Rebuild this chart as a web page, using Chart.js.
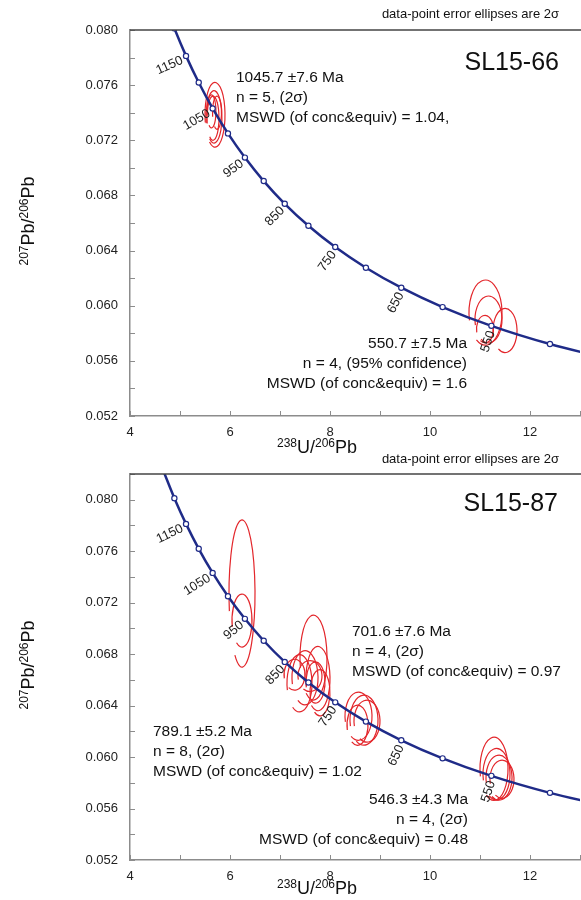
<!DOCTYPE html>
<html>
<head>
<meta charset="utf-8">
<script src="https://cdn.jsdelivr.net/npm/chart.js@4.4.1/dist/chart.umd.min.js"></script>
<style>
  html, body { margin: 0; padding: 0; background: #fff; }
  #wrap { position: relative; width: 581px; height: 900px; overflow: hidden; }
  .panel { position: absolute; left: 0; width: 581px; height: 460px; }
</style>
</head>
<body>
<div id="wrap">
  <div class="panel" style="top:0px"><canvas id="c66" width="581" height="460"></canvas></div>
  <div class="panel" style="top:440px"><canvas id="c87" width="581" height="460"></canvas></div>
</div>
<script>
// ── data ──────────────────────────────────────────────────────────────────────

var FONT = "'Liberation Sans', Arial, sans-serif";
var NAVY = "#1f2b88";
var RED  = "#e3262b";
var AXIS = "#8c8c8c";

// concordia (Tera-Wasserburg), ages in Ma
var concAges   = [1250, 1200, 1150, 1100, 1050, 1000, 950, 900, 850, 800, 750, 700, 650, 600, 550, 500, 450];
var concX      = [4.6733, 4.8875, 5.1204, 5.3746, 5.6530, 5.9593, 6.2980, 6.6743, 7.0950, 7.5684, 8.1049, 8.7182, 9.4260, 10.2518, 11.2279, 12.3993, 13.8312];
var concY      = [0.082188, 0.080123, 0.078123, 0.076188, 0.074314, 0.072499, 0.070743, 0.069042, 0.067395, 0.065799, 0.064254, 0.062757, 0.061306, 0.059901, 0.058539, 0.057219, 0.055940];
var concMarker = [0, 1, 1, 1, 1, 1, 1, 1, 1, 1, 1, 1, 1, 1, 1, 1, 0];
var labelAges  = [1150, 1050, 950, 850, 750, 650, 550];

var xTickVals   = [4, 5, 6, 7, 8, 9, 10, 11, 12, 13];
var xTickLabels = [4, 6, 8, 10, 12];
var yTickVals66 = [0.052, 0.054, 0.056, 0.058, 0.060, 0.062, 0.064, 0.066, 0.068, 0.070, 0.072, 0.074, 0.076, 0.078, 0.080];
var yTickVals87 = [0.052, 0.054, 0.056, 0.058, 0.060, 0.062, 0.064, 0.066, 0.068, 0.070, 0.072, 0.074, 0.076, 0.078, 0.080, 0.082];
var yTickLabels = ["0.052", "0.056", "0.060", "0.064", "0.068", "0.072", "0.076", "0.080"];

// error ellipses: [x, y, half-width (x units), half-height (y units)]
var ell66a = [[5.70, 0.07385, 0.20, 0.00235], [5.68, 0.0737, 0.16, 0.0019], [5.66, 0.0736, 0.12, 0.0016],
              [5.63, 0.0741, 0.09, 0.0012], [5.74, 0.0740, 0.09, 0.0012]];
var ell66b = [[11.11, 0.0595, 0.33, 0.00236], [11.17, 0.0590, 0.27, 0.0017], [11.10, 0.0583, 0.17, 0.0010],
              [11.50, 0.0582, 0.24, 0.0016]];
var ell87a = [[6.24, 0.07271, 0.26, 0.00572], [6.24, 0.07061, 0.20, 0.00206]];
var ell87b = [[7.67, 0.06773, 0.27, 0.0033], [7.39, 0.06573, 0.25, 0.00222], [7.50, 0.06617, 0.26, 0.0021],
              [7.76, 0.0661, 0.24, 0.0025], [7.71, 0.0658, 0.19, 0.0016], [7.60, 0.0663, 0.24, 0.0012],
              [7.80, 0.0650, 0.20, 0.0018], [7.29, 0.0664, 0.21, 0.0012]];
var ell87c = [[8.57, 0.06318, 0.27, 0.00187], [8.68, 0.06287, 0.28, 0.00194], [8.74, 0.06279, 0.26, 0.00163],
              [8.55, 0.06248, 0.21, 0.00156]];
var ell87d = [[11.28, 0.05909, 0.28, 0.00245], [11.33, 0.05867, 0.27, 0.0020], [11.38, 0.0584, 0.26, 0.00175],
              [11.44, 0.05828, 0.24, 0.00148]];

var noteText  = "data-point error ellipses are 2σ";
var text66a   = ["1045.7 ±7.6 Ma", "n = 5, (2σ)", "MSWD (of conc&equiv) = 1.04,"];
var text66b   = ["550.7 ±7.5 Ma", "n = 4, (95% confidence)", "MSWD (of conc&equiv) = 1.6"];
var text87a   = ["701.6 ±7.6 Ma", "n = 4, (2σ)", "MSWD (of conc&equiv) = 0.97"];
var text87b   = ["789.1 ±5.2 Ma", "n = 8, (2σ)", "MSWD (of conc&equiv) = 1.02"];
var text87c   = ["546.3 ±4.3 Ma", "n = 4, (2σ)", "MSWD (of conc&equiv) = 0.48"];

var xTitleParts = [["238", 1], ["U/", 0], ["206", 1], ["Pb", 0]];
var yTitleParts = [["207", 1], ["Pb/", 0], ["206", 1], ["Pb", 0]];

// ── drawing helpers ───────────────────────────────────────────────────────────

function richWidth(ctx, parts) {
  var w = 0;
  parts.forEach(function(p) {
    ctx.font = (p[1] ? "12px " : "18px ") + FONT;
    w += ctx.measureText(p[0]).width;
  });
  return w;
}

function drawRich(ctx, parts, cx, baseline) {
  var x = cx - richWidth(ctx, parts) / 2;
  ctx.textAlign = "left";
  ctx.textBaseline = "alphabetic";
  ctx.fillStyle = "#111";
  parts.forEach(function(p) {
    ctx.font = (p[1] ? "12px " : "18px ") + FONT;
    ctx.fillText(p[0], x, p[1] ? baseline - 6 : baseline);
    x += ctx.measureText(p[0]).width;
  });
}

function panelPlugin(cfg) {
  return {
    id: "panel",
    beforeDatasetsDraw: function(chart) {
      var ctx = chart.ctx, a = chart.chartArea;
      var xs = chart.scales.x, ys = chart.scales.y;
      ctx.save();
      ctx.beginPath();
      ctx.rect(a.left, a.top, a.right - a.left, a.bottom - a.top);
      ctx.clip();
      ctx.strokeStyle = RED;
      ctx.lineWidth = 1.2;
      cfg.ellipses.forEach(function(e) {
        var px = xs.getPixelForValue(e[0]), py = ys.getPixelForValue(e[1]);
        var rx = Math.abs(xs.getPixelForValue(e[0] + e[2]) - px);
        var ry = Math.abs(ys.getPixelForValue(e[1] + e[3]) - py);
        ctx.beginPath();
        ctx.ellipse(px, py, rx, ry, 0, 2.9, 2.15 + Math.PI * 2);
        ctx.stroke();
      });
      ctx.restore();
    },
    afterDatasetsDraw: function(chart) {
      // age labels, perpendicular to the curve, ending at the marker
      var ctx = chart.ctx;
      var xs = chart.scales.x, ys = chart.scales.y;
      ctx.save();
      ctx.font = "13px " + FONT;
      ctx.fillStyle = "#222";
      ctx.textAlign = "right";
      ctx.textBaseline = "middle";
      labelAges.forEach(function(age) {
        var i = concAges.indexOf(age);
        var px = xs.getPixelForValue(concX[i]), py = ys.getPixelForValue(concY[i]);
        var tx = xs.getPixelForValue(concX[i + 1]) - xs.getPixelForValue(concX[i - 1]);
        var ty = ys.getPixelForValue(concY[i + 1]) - ys.getPixelForValue(concY[i - 1]);
        var len = Math.sqrt(tx * tx + ty * ty);
        tx /= len; ty /= len;
        var dx = ty, dy = -tx;           // up-right, normal to the curve
        var ex = px - dx * 5 + tx * 2, ey = py - dy * 5 + ty * 2;
        ctx.save();
        ctx.translate(ex, ey);
        ctx.rotate(Math.atan2(dy, dx));
        ctx.fillText(String(age), 0, 0);
        ctx.restore();
      });
      ctx.restore();
    },
    afterDraw: function(chart) {
      var ctx = chart.ctx, a = chart.chartArea;
      var xs = chart.scales.x, ys = chart.scales.y;
      ctx.save();
      // inward ticks
      ctx.strokeStyle = AXIS;
      ctx.lineWidth = 1;
      ctx.beginPath();
      xTickVals.forEach(function(v) {
        var p = Math.round(xs.getPixelForValue(v)) + 0.5;
        ctx.moveTo(p, a.bottom); ctx.lineTo(p, a.bottom - 5);
      });
      cfg.yTicks.forEach(function(v) {
        var p = Math.round(ys.getPixelForValue(v)) + 0.5;
        ctx.moveTo(a.left, p); ctx.lineTo(a.left + 5, p);
      });
      ctx.stroke();
      // top frame line
      ctx.strokeStyle = "#444";
      ctx.lineWidth = 1.5;
      ctx.beginPath();
      ctx.moveTo(a.left, a.top); ctx.lineTo(chart.width, a.top);
      ctx.stroke();
      // axis titles
      drawRich(ctx, xTitleParts, 317, cfg.xTitleY);
      ctx.save();
      ctx.translate(34, (a.top + a.bottom) / 2 - 2);
      ctx.rotate(-Math.PI / 2);
      drawRich(ctx, yTitleParts, 0, 0);
      ctx.restore();
      // text blocks
      ctx.fillStyle = "#111";
      ctx.textBaseline = "alphabetic";
      cfg.texts.forEach(function(t) {
        ctx.font = t.size + "px " + FONT;
        ctx.textAlign = t.align;
        t.lines.forEach(function(s, k) { ctx.fillText(s, t.x, t.y + k * 20); });
      });
      ctx.restore();
    }
  };
}

// ── chart ─────────────────────────────────────────────────────────────────────

function makePanel(id, cfg) {
  var canvas = document.getElementById(id);
  var points = concX.map(function(x, i) { return { x: x, y: concY[i] }; });
  return new Chart(canvas.getContext("2d"), {
    type: "scatter",
    data: {
      datasets: [{
        data: points,
        showLine: true,
        borderColor: NAVY, borderWidth: 2.5,
        cubicInterpolationMode: "monotone",
        pointRadius: concMarker.map(function(m) { return m ? 2.6 : 0; }),
        pointBackgroundColor: "#fff", pointBorderColor: NAVY, pointBorderWidth: 1.2,
        clip: 0,
      }],
    },
    options: {
      responsive: false, animation: false, events: [],
      layout: { padding: { top: cfg.top, right: 1, left: 0, bottom: 0 } },
      plugins: { legend: { display: false }, tooltip: { enabled: false } },
      scales: {
        x: {
          type: "linear", min: 4, max: 13,
          afterBuildTicks: function(s) { s.ticks = xTickVals.map(function(v) { return { value: v }; }); },
          afterFit: function(s) {
            s.height = cfg.xAxisH;
            s.paddingLeft = 0; s.paddingRight = 0;
          },
          grid: { display: false, drawTicks: false },
          border: { display: true, color: AXIS, width: 1.5 },
          ticks: {
            padding: 9, color: "#222", font: { family: FONT, size: 13 }, autoSkip: false, maxRotation: 0,
            callback: function(v) { return xTickLabels.indexOf(v) >= 0 ? String(v) : ""; },
          },
        },
        y: {
          type: "linear", min: 0.052, max: cfg.yMax,
          afterBuildTicks: function(s) { s.ticks = cfg.yTicks.map(function(v) { return { value: v }; }); },
          afterFit: function(s) {
            s.width = 130;
            s.paddingTop = 0; s.paddingBottom = 0;
          },
          grid: { display: false, drawTicks: false },
          border: { display: true, color: AXIS, width: 1.5 },
          ticks: {
            padding: 12, color: "#222", font: { family: FONT, size: 13 }, autoSkip: false,
            callback: function(v) { var s = v.toFixed(3); return yTickLabels.indexOf(s) >= 0 ? s : ""; },
          },
        },
      },
    },
    plugins: [panelPlugin(cfg)],
  });
}

makePanel("c66", {
  top: 30, xAxisH: 44, yMax: 0.080, yTicks: yTickVals66, xTitleY: 453,
  ellipses: ell66a.concat(ell66b),
  texts: [
    { lines: [noteText],  x: 559, y: 18,  align: "right", size: 13 },
    { lines: ["SL15-66"], x: 559, y: 70,  align: "right", size: 25 },
    { lines: text66a,     x: 236, y: 82,  align: "left",  size: 15.5 },
    { lines: text66b,     x: 467, y: 348, align: "right", size: 15.5 },
  ],
});

makePanel("c87", {
  top: 34, xAxisH: 40, yMax: 0.082, yTicks: yTickVals87, xTitleY: 454,
  ellipses: ell87a.concat(ell87b, ell87c, ell87d),
  texts: [
    { lines: [noteText],  x: 559, y: 23,  align: "right", size: 13 },
    { lines: ["SL15-87"], x: 558, y: 71,  align: "right", size: 25 },
    { lines: text87a,     x: 352, y: 196, align: "left",  size: 15.5 },
    { lines: text87b,     x: 153, y: 296, align: "left",  size: 15.5 },
    { lines: text87c,     x: 468, y: 364, align: "right", size: 15.5 },
  ],
});
</script>
</body>
</html>
